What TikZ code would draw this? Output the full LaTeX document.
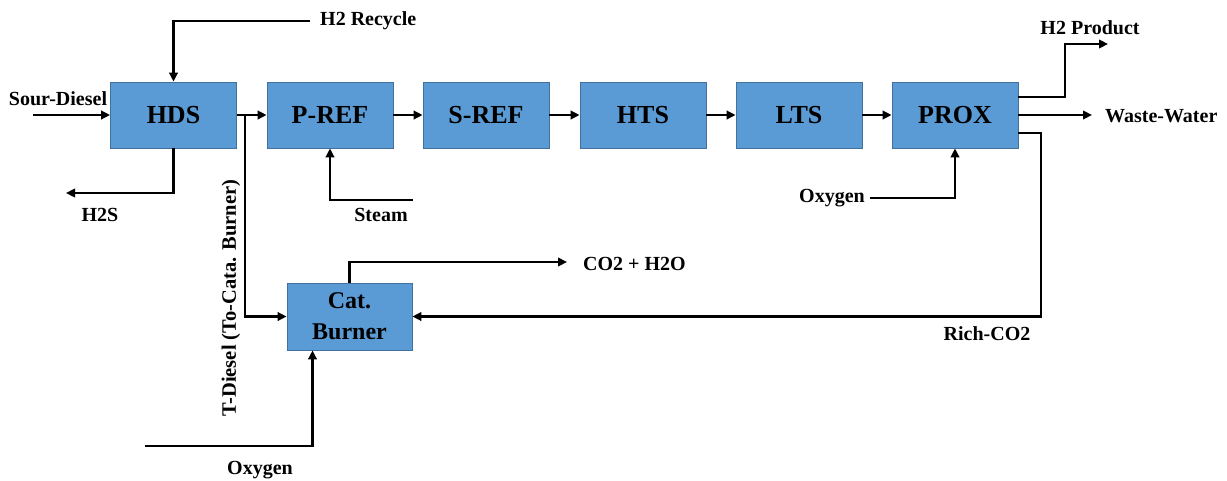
\documentclass[tikz,border=0pt]{standalone}
\usepackage{fontspec}
\setmainfont{Liberation Serif}
\usetikzlibrary{arrows.meta}
\definecolor{boxblue}{HTML}{5B9BD5}
\definecolor{boxedge}{HTML}{41719C}
\begin{document}
\begin{tikzpicture}[x=1pt,y=-1pt,
  unit/.style={fill=boxblue, draw=boxedge, line width=0.8pt,
    minimum width=126pt, minimum height=66pt, inner sep=0pt,
    align=center, font=\bfseries\fontsize{26}{28}\selectfont},
  flow/.style={line width=2.8pt, -{Triangle[length=9pt,width=8.5pt]}},
  lbl/.style={font=\bfseries\fontsize{20}{22}\selectfont, inner sep=0pt}]
\useasboundingbox (0,0) rectangle (1227,480);

% process units
\node[unit] (hds)  at (173.5,115) {HDS};
\node[unit] (pref) at (330,115) {P-REF};
\node[unit] (sref) at (486,115) {S-REF};
\node[unit] (hts)  at (643,115) {HTS};
\node[unit] (lts)  at (799,115) {LTS};
\node[unit] (prox) at (955,115) {PROX};
\node[unit, minimum width=125pt, minimum height=67pt,
  font=\bfseries\fontsize{24}{31}\selectfont] (burner) at (349.5,316.5) {Cat.\\Burner};

% free ends of the streams
\coordinate (sourin)   at (33,115);
\coordinate (h2rec)    at (310,21);
\coordinate (h2s)      at (66,193);
\coordinate (split)    at (245,115);
\coordinate (steam)    at (413,200);
\coordinate (h2bend)   at (1065,44);
\coordinate (h2prod)   at (1108,44);
\coordinate (ww)       at (1092,115);
\coordinate (richbend) at (1041,316.5);
\coordinate (oxprox)   at (870,198);
\coordinate (co2)      at (567,262);
\coordinate (oxburn)   at (145,446);

% main train
\draw[flow] (sourin) -- (hds);
\draw[flow] (h2rec) -| (hds.north);
\draw[flow] (hds.south) |- (h2s);
\draw[flow] (hds) -- (pref);
\draw[flow] (split) |- (burner.west);
\draw[flow] (steam) -| (pref.south);
\draw[flow] (pref) -- (sref);
\draw[flow] (sref) -- (hts);
\draw[flow] (hts) -- (lts);
\draw[flow] (lts) -- (prox);
\draw[flow] (oxprox) -| (prox.south);

% PROX outlets
\draw[flow] ([yshift=18pt]prox.east) -| (h2bend) -- (h2prod);
\draw[flow] (prox) -- (ww);
\draw[flow] ([yshift=-18pt]prox.east) -| (richbend) -- (burner.east);

% burner
\draw[flow] (burner.north) |- (co2);
\draw[flow] (oxburn) -| ([xshift=-37pt]burner.south);

% stream labels
\node[lbl] (lsour) at (58,99) {Sour-Diesel};
\node[lbl, anchor=west] (lrec) at (320,21) {H2 Recycle};
\node[lbl] (lh2s) at (100,215) {H2S};
\node[lbl] (lsteam) at (381,215) {Steam};
\node[lbl] (lprod) at (1090,28) {H2 Product};
\node[lbl, anchor=west] (lww) at (1105,116) {Waste-Water};
\node[lbl] (loxp) at (832,198) {Oxygen};
\node[lbl] (lrich) at (987,334) {Rich-CO2};
\node[lbl, anchor=west] (lco2) at (583,264) {CO2 + H2O};
\node[lbl] (loxb) at (260,470) {Oxygen};
\node[lbl, rotate=90, font=\bfseries\fontsize{20.5}{22}\selectfont] (ltd) at (231,298) {T-Diesel (To-Cata. Burner)};
\end{tikzpicture}
\end{document}
